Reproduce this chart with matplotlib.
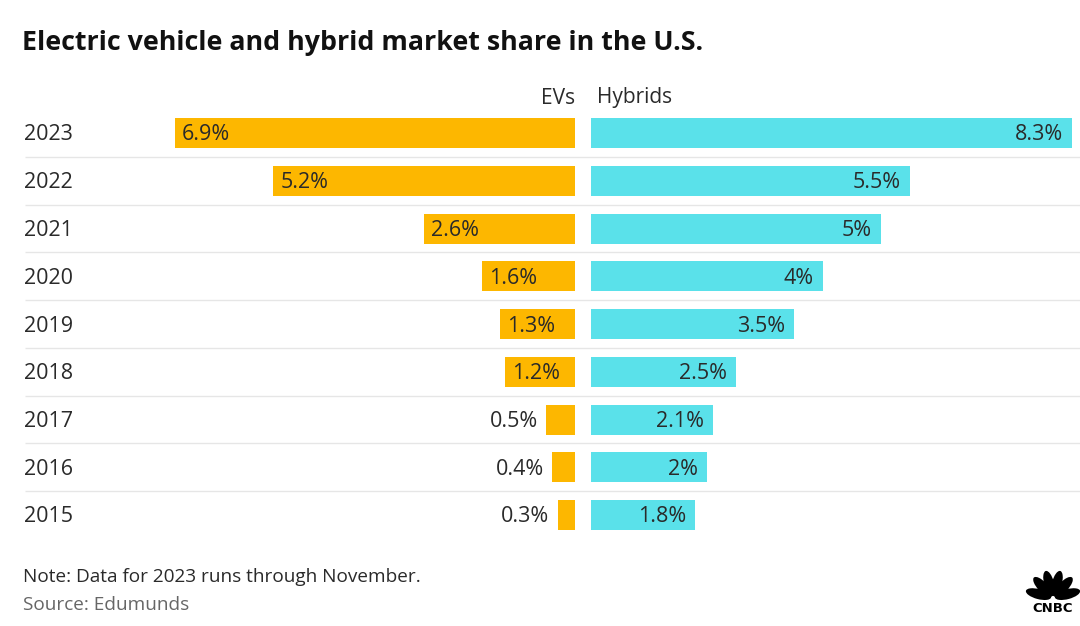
import matplotlib
matplotlib.use("Agg")
import matplotlib.pyplot as plt
from matplotlib.patches import Ellipse
import math

years = ["2023", "2022", "2021", "2020", "2019", "2018", "2017", "2016", "2015"]
ev_share = [6.9, 5.2, 2.6, 1.6, 1.3, 1.2, 0.5, 0.4, 0.3]
hybrid_share = [8.3, 5.5, 5.0, 4.0, 3.5, 2.5, 2.1, 2.0, 1.8]
ev_labels = ["6.9%", "5.2%", "2.6%", "1.6%", "1.3%", "1.2%", "0.5%", "0.4%", "0.3%"]
hybrid_labels = ["8.3%", "5.5%", "5%", "4%", "3.5%", "2.5%", "2.1%", "2%", "1.8%"]

W, H = 1080, 626
ORANGE = "#FDB700"
CYAN = "#5AE1EA"
TXT = "#2a2a2a"
FONT = "Open Sans"
LBL = 15.5
plt.rcParams["font.family"] = [FONT, "DejaVu Sans"]

fig = plt.figure(figsize=(W / 100, H / 100), dpi=100)
fig.patch.set_facecolor("white")

def fx(px):
    return px / W

def fy(py):
    return 1 - py / H

row_h = 47.75
top = 133 - row_h / 2
bottom = top + row_h * len(years)
PX_PER_PCT = 58.0
DY = 2 / row_h  # small downward nudge for text

# background axes for separators and year labels
bg = fig.add_axes([0, fy(bottom), 1, (bottom - top) / H])
bg.set_xlim(0, W)
bg.set_ylim(len(years) - 0.5, -0.5)
bg.axis("off")
for i in range(len(years) - 1):
    bg.plot([25, W], [i + 0.5, i + 0.5], color="#e6e6e6", lw=1, solid_capstyle="butt")
for i, y in enumerate(years):
    bg.text(24, i + DY, y, ha="left", va="center", fontsize=LBL, color=TXT)

# EV axes (bars grow leftwards from x=575)
ev_left, ev_right = 160, 575
ax1 = fig.add_axes([fx(ev_left), fy(bottom), (ev_right - ev_left) / W, (bottom - top) / H])
ax1.set_xlim((ev_right - ev_left) / PX_PER_PCT, 0)
ax1.set_ylim(len(years) - 0.5, -0.5)
ax1.axis("off")
ax1.barh(range(len(years)), ev_share, height=30 / row_h, color=ORANGE, edgecolor="none")
for i, (v, lab) in enumerate(zip(ev_share, ev_labels)):
    if v >= 1.0:
        ax1.text(v - 7 / PX_PER_PCT, i + DY, lab, ha="left", va="center", fontsize=LBL, color=TXT)
    else:
        ax1.text(v + 8 / PX_PER_PCT, i + DY, lab, ha="right", va="center", fontsize=LBL, color=TXT)

# Hybrid axes (bars grow rightwards from x=591)
hy_left, hy_right = 591, 1078
ax2 = fig.add_axes([fx(hy_left), fy(bottom), (hy_right - hy_left) / W, (bottom - top) / H])
ax2.set_xlim(0, (hy_right - hy_left) / PX_PER_PCT)
ax2.set_ylim(len(years) - 0.5, -0.5)
ax2.axis("off")
ax2.barh(range(len(years)), hybrid_share, height=30 / row_h, color=CYAN, edgecolor="none")
for i, (v, lab) in enumerate(zip(hybrid_share, hybrid_labels)):
    ax2.text(v - 9 / PX_PER_PCT, i + DY, lab, ha="right", va="center", fontsize=LBL, color=TXT)

# headers
fig.text(fx(575), fy(98), "EVs", ha="right", va="center", fontsize=15, color=TXT)
fig.text(fx(597), fy(98), "Hybrids", ha="left", va="center", fontsize=15, color=TXT)

# title and notes
fig.text(fx(22), fy(43), "Electric vehicle and hybrid market share in the U.S.",
         ha="left", va="center", fontsize=19.3, fontweight="bold", color="#111111")
fig.text(fx(23), fy(577), "Note: Data for 2023 runs through November.",
         ha="left", va="center", fontsize=13.7, color=TXT)
fig.text(fx(23), fy(605), "Source: Edumunds",
         ha="left", va="center", fontsize=13.7, color="#666666")

# CNBC logo (simple peacock)
logo = fig.add_axes([fx(1024), fy(614), 58 / W, 48 / H])
logo.set_xlim(0, 58)
logo.set_ylim(0, 48)
logo.axis("off")
for ang in [165, 133, 105, 75, 47, 15]:
    a = math.radians(ang)
    cx = 29 + 15 * math.cos(a)
    cy = 16 + 15 * math.sin(a)
    logo.add_patch(Ellipse((cx, cy), 10, 26, angle=ang - 90, color="black", lw=0))
logo.text(29, 5, "CNBC", ha="center", va="center", fontsize=9.5,
          fontweight="bold", color="black", family="DejaVu Sans")

fig.savefig("out.png", dpi=100, facecolor="white")
